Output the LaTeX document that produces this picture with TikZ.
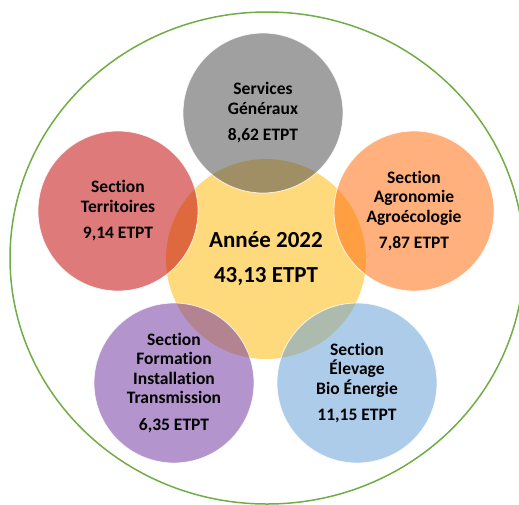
\documentclass[tikz,border=0pt]{standalone}
\usepackage{fontspec}
\setmainfont{Carlito}[Ligatures={NoCommon}]
\definecolor{outergreen}{RGB}{112,173,71}
\definecolor{centeryellow}{RGB}{255,218,125}
\definecolor{cgrey}{RGB}{82,82,82}
\definecolor{cred}{RGB}{195,13,13}
\definecolor{corange}{RGB}{255,111,16}
\definecolor{cpurple}{RGB}{118,60,162}
\definecolor{cblue}{RGB}{105,162,216}
\begin{document}
\begin{tikzpicture}[x=1pt,y=-1pt,
  bubble/.style={circle, minimum size=160pt, inner sep=0pt, fill opacity=0.55,
    text opacity=1, draw=white, draw opacity=0.8, line width=0.8pt, align=center,
    font=\bfseries\fontsize{17.5}{19.5}\selectfont},
  hub/.style={circle, minimum size=200pt, inner sep=0pt, fill=centeryellow, align=center,
    font=\bfseries\fontsize{23}{35}\selectfont}]
\useasboundingbox (0,0) rectangle (519,504);
\draw[outergreen, line width=1.5pt] (267,258) ellipse [x radius=257, y radius=246];
\node[hub] (hub) at (266,259) {Année 2022\\43,13 ETPT};
\node[bubble, fill=cgrey] (sg) at (263,113) {Services\\Généraux\\[7pt]8,62 ETPT};
\node[bubble, fill=cred] (terr) at (118,211) {Section\\Territoires\\[7pt]9,14 ETPT};
\node[bubble, fill=corange] (agro) at (414,211) {Section\\Agronomie\\Agroécologie\\[7pt]7,87 ETPT};
\node[bubble, fill=cpurple] (form) at (174,383) {Section\\Formation\\Installation\\Transmission\\[7pt]6,35 ETPT};
\node[bubble, fill=cblue] (elev) at (357,383) {Section\\Élevage\\Bio Énergie\\[7pt]11,15 ETPT};
\end{tikzpicture}
\end{document}
